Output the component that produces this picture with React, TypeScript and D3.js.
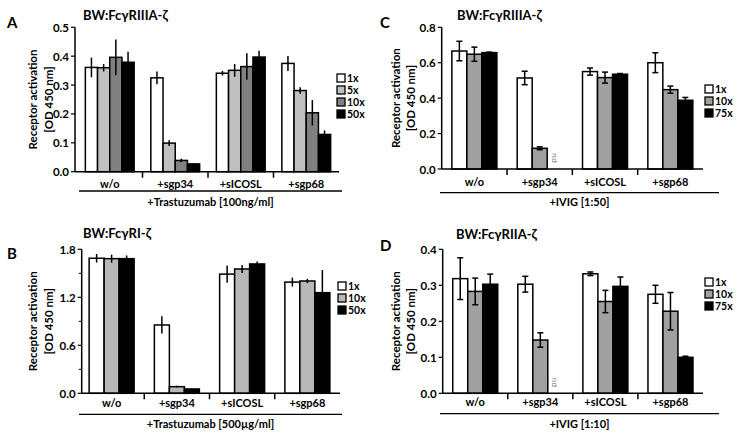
import React from "react";
import * as d3 from "d3";

const categories = ["w/o", "+sgp34", "+sICOSL", "+sgp68"];

// Panel A
const seriesA = ["1x", "5x", "10x", "50x"];
const valuesA = [
  [0.361, 0.325, 0.341, 0.375],
  [0.36, 0.099, 0.351, 0.281],
  [0.396, 0.039, 0.364, 0.204],
  [0.379, 0.027, 0.397, 0.129],
];
const errorsA = [
  [0.034, 0.022, 0.008, 0.026],
  [0.013, 0.01, 0.022, 0.011],
  [0.062, 0.006, 0.046, 0.044],
  [0.036, 0.003, 0.022, 0.014],
];
const ticksA = [0, 0.1, 0.2, 0.3, 0.4, 0.5];

// Panel B
const seriesB = ["1x", "10x", "50x"];
const valuesB = [
  [1.688, 0.854, 1.49, 1.39],
  [1.683, 0.083, 1.554, 1.404],
  [1.683, 0.054, 1.617, 1.258],
];
const errorsB = [
  [0.054, 0.108, 0.108, 0.056],
  [0.05, 0.01, 0.05, 0.027],
  [0.04, 0.005, 0.03, 0.283],
];
const ticksB = [0, 0.6, 1.2, 1.8];
const minorTicksB = [0.3, 0.9, 1.5];

// Panel C
const seriesC = ["1x", "10x", "75x"];
const valuesC: (number | null)[][] = [
  [0.666, 0.514, 0.55, 0.6],
  [0.648, 0.117, 0.516, 0.448],
  [0.657, null, 0.535, 0.388],
];
const errorsC = [
  [0.055, 0.038, 0.02, 0.056],
  [0.04, 0.008, 0.031, 0.02],
  [0.003, 0, 0.004, 0.016],
];
const ticksC = [0, 0.2, 0.4, 0.6, 0.8];

// Panel D
const seriesD = ["1x", "10x", "75x"];
const valuesD: (number | null)[][] = [
  [0.3185, 0.303, 0.332, 0.275],
  [0.283, 0.148, 0.255, 0.228],
  [0.303, null, 0.297, 0.1],
];
const errorsD = [
  [0.058, 0.022, 0.005, 0.025],
  [0.037, 0.02, 0.031, 0.052],
  [0.028, 0, 0.026, 0.003],
];
const ticksD = [0, 0.1, 0.2, 0.3, 0.4];

const FONT = "Lato, 'Open Sans', sans-serif";

type PanelProps = {
  letter: string;
  letterX: number;
  letterY: number;
  title: string;
  titleX: number;
  titleY: number;
  axisX: number;
  xr0: number;
  xr1: number;
  yTop: number;
  yBottom: number;
  ticks: number[];
  minorTicks?: number[];
  fmt: string;
  series: string[];
  values: (number | null)[][];
  errors: number[][];
  colors: string[];
  barW: number;
  caps: boolean;
  legendX: number;
  legendY: number;
  legendStep: number;
  ylabX1: number;
  ylabX2: number;
  catY: number;
  lineY: number;
  lineX0: number;
  lineX1: number;
  bottomLabel: string;
  bottomY: number;
};

function Panel(p: PanelProps) {
  const y = d3
    .scaleLinear()
    .domain([0, p.ticks[p.ticks.length - 1]])
    .range([p.yBottom, p.yTop]);
  const x = d3.scaleBand().domain(categories).range([p.xr0, p.xr1]);
  const groupW = p.barW * p.series.length;
  const xs = d3.scaleBand().domain(p.series).range([0, groupW]);
  const off = (x.bandwidth() - groupW) / 2;
  const f = d3.format(p.fmt);
  const yMid = (p.yTop + p.yBottom) / 2;
  const boundaries = categories.slice(1).map((c) => x(c) as number);

  return (
    <g fontFamily={FONT}>
      <text x={p.letterX} y={p.letterY} fontSize={15} fontWeight="bold">
        {p.letter}
      </text>
      <text x={p.titleX} y={p.titleY} fontSize={13} fontWeight="bold">
        {p.title}
      </text>
      {/* y label */}
      <text
        transform={`translate(${p.ylabX1},${yMid}) rotate(-90)`}
        textAnchor="middle"
        dominantBaseline="central"
        fontSize={11.5}
        fontWeight="bold"
      >
        Receptor activation
      </text>
      <text
        transform={`translate(${p.ylabX2},${yMid}) rotate(-90)`}
        textAnchor="middle"
        dominantBaseline="central"
        fontSize={11.5}
        fontWeight="bold"
      >
        [OD 450 nm]
      </text>
      {/* bars */}
      {p.series.map((s, si) =>
        categories.map((c, ci) => {
          const v = p.values[si][ci];
          const bx = (x(c) as number) + off + (xs(s) as number);
          const cx = bx + p.barW / 2;
          if (v === null) {
            return (
              <text
                key={s + c}
                transform={`translate(${cx - 3},${y(0) - 16}) rotate(90)`}
                fontSize={8}
                fill="#777"
                fontFamily="'Open Sans', sans-serif"
              >
                nd
              </text>
            );
          }
          const e = p.errors[si][ci];
          return (
            <g key={s + c}>
              <rect
                x={bx}
                y={y(v)}
                width={p.barW}
                height={y(0) - y(v)}
                fill={p.colors[si]}
                stroke="#000"
                strokeWidth={1.5}
              />
              {e > 0 && (
                <g stroke="#000" strokeWidth={1.5}>
                  <line x1={cx} x2={cx} y1={y(v + e)} y2={y(v - e)} />
                  {p.caps && (
                    <>
                      <line x1={cx - 3} x2={cx + 3} y1={y(v + e)} y2={y(v + e)} />
                      <line x1={cx - 3} x2={cx + 3} y1={y(v - e)} y2={y(v - e)} />
                    </>
                  )}
                </g>
              )}
            </g>
          );
        })
      )}
      {/* y axis */}
      <line x1={p.axisX} x2={p.axisX} y1={p.yTop} y2={p.yBottom} stroke="#000" strokeWidth={1.5} />
      {p.ticks.map((t) => (
        <g key={t}>
          <line x1={p.axisX - 4} x2={p.axisX} y1={y(t)} y2={y(t)} stroke="#000" strokeWidth={1.2} />
          <text
            x={p.axisX - 6}
            y={y(t)}
            textAnchor="end"
            dominantBaseline="central"
            fontSize={11.5}
            fontWeight="bold"
          >
            {f(t)}
          </text>
        </g>
      ))}
      {(p.minorTicks || []).map((t) => (
        <line key={t} x1={p.axisX - 3} x2={p.axisX} y1={y(t)} y2={y(t)} stroke="#000" strokeWidth={1} />
      ))}
      {/* x axis */}
      <line x1={p.axisX} x2={p.xr1} y1={p.yBottom} y2={p.yBottom} stroke="#000" strokeWidth={1.5} />
      {boundaries.map((b) => (
        <line key={b} x1={b} x2={b} y1={p.yBottom} y2={p.yBottom + 6} stroke="#000" strokeWidth={1.5} />
      ))}
      {categories.map((c) => (
        <text
          key={c}
          x={(x(c) as number) + x.bandwidth() / 2}
          y={p.catY}
          textAnchor="middle"
          fontSize={11}
          fontWeight="bold"
        >
          {c}
        </text>
      ))}
      <line x1={p.lineX0} x2={p.lineX1} y1={p.lineY} y2={p.lineY} stroke="#000" strokeWidth={1.3} />
      <text
        x={(p.lineX0 + p.lineX1) / 2}
        y={p.bottomY}
        textAnchor="middle"
        fontSize={11}
        fontWeight="bold"
      >
        {p.bottomLabel}
      </text>
      {/* legend */}
      {p.series.map((s, si) => (
        <g key={s}>
          <rect
            x={p.legendX}
            y={p.legendY + si * p.legendStep - 4}
            width={8}
            height={8}
            fill={p.colors[si]}
            stroke="#000"
            strokeWidth={1.3}
          />
          <text
            x={p.legendX + 10}
            y={p.legendY + si * p.legendStep}
            dominantBaseline="central"
            fontSize={10.5}
            fontWeight="bold"
          >
            {s}
          </text>
        </g>
      ))}
    </g>
  );
}

export default function App() {
  return (
    <svg
      width={745}
      height={442}
      style={{ position: "absolute", left: 0, top: 0, background: "#fff" }}
    >
      <Panel
        letter="A"
        letterX={7}
        letterY={28}
        title="BW:FcγRIIIA-ζ"
        titleX={83}
        titleY={20}
        axisX={75}
        xr0={77}
        xr1={339}
        yTop={27.3}
        yBottom={171.7}
        ticks={ticksA}
        fmt=".1f"
        series={seriesA}
        values={valuesA}
        errors={errorsA}
        colors={["#ffffff", "#c0c0c0", "#808080", "#000000"]}
        barW={12.2}
        caps={false}
        legendX={337}
        legendY={78}
        legendStep={12}
        ylabX1={32}
        ylabX2={48}
        catY={188}
        lineY={191}
        lineX0={79}
        lineX1={342}
        bottomLabel="+Trastuzumab [100ng/ml]"
        bottomY={206}
      />
      <Panel
        letter="B"
        letterX={7}
        letterY={259}
        title="BW:FcγRI-ζ"
        titleX={83}
        titleY={238}
        axisX={81.7}
        xr0={79}
        xr1={340}
        yTop={249.3}
        yBottom={393.3}
        ticks={ticksB}
        minorTicks={minorTicksB}
        fmt=".1f"
        series={seriesB}
        values={valuesB}
        errors={errorsB}
        colors={["#ffffff", "#b8b8b8", "#000000"]}
        barW={15}
        caps={false}
        legendX={338}
        legendY={286}
        legendStep={12}
        ylabX1={32}
        ylabX2={48}
        catY={407}
        lineY={414.3}
        lineX0={79}
        lineX1={342}
        bottomLabel="+Trastuzumab [500µg/ml]"
        bottomY={428}
      />
      <Panel
        letter="C"
        letterX={380}
        letterY={28}
        title="BW:FcγRIIIA-ζ"
        titleX={457}
        titleY={20}
        axisX={441.7}
        xr0={441.7}
        xr1={703}
        yTop={27.3}
        yBottom={169}
        ticks={ticksC}
        fmt=".1f"
        series={seriesC}
        values={valuesC}
        errors={errorsC}
        colors={["#ffffff", "#a0a0a0", "#000000"]}
        barW={15}
        caps={true}
        legendX={705}
        legendY={89}
        legendStep={12}
        ylabX1={395}
        ylabX2={410}
        catY={186}
        lineY={192.7}
        lineX0={440}
        lineX1={719}
        bottomLabel="+IVIG [1:50]"
        bottomY={206}
      />
      <Panel
        letter="D"
        letterX={380}
        letterY={251}
        title="BW:FcγRIIA-ζ"
        titleX={456}
        titleY={239}
        axisX={442.7}
        xr0={442.7}
        xr1={703}
        yTop={249.3}
        yBottom={393.3}
        ticks={ticksD}
        fmt=".1f"
        series={seriesD}
        values={valuesD}
        errors={errorsD}
        colors={["#ffffff", "#a0a0a0", "#000000"]}
        barW={15}
        caps={true}
        legendX={705}
        legendY={282}
        legendStep={12}
        ylabX1={395}
        ylabX2={410}
        catY={406}
        lineY={413.7}
        lineX0={440}
        lineX1={719}
        bottomLabel="+IVIG [1:10]"
        bottomY={428}
      />
    </svg>
  );
}
